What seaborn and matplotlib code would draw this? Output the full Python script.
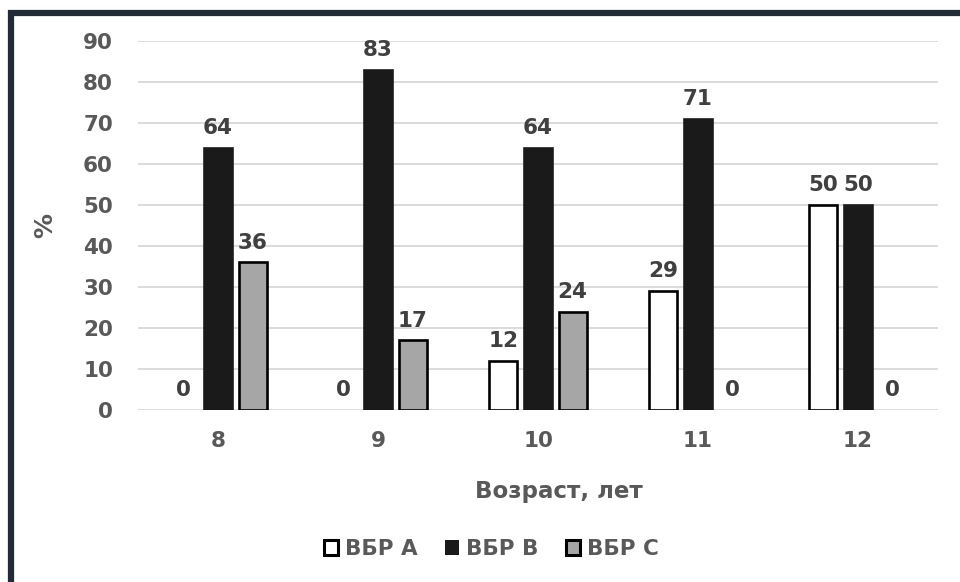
import matplotlib
matplotlib.use("Agg")
import matplotlib.pyplot as plt
from matplotlib.patches import Patch
from matplotlib.lines import Line2D
import seaborn as sns
import pandas as pd

# Age groups and share (%) of each variant
ages = ["8", "9", "10", "11", "12"]
series_names = ["ВБР А", "ВБР В", "ВБР С"]
vbr_a = [0, 0, 12, 29, 50]
vbr_b = [64, 83, 64, 71, 50]
vbr_c = [36, 17, 24, 0, 0]
y_ticks = [0, 10, 20, 30, 40, 50, 60, 70, 80, 90]

fills = ["#ffffff", "#1a1a1a", "#a6a6a6"]
edges = ["#000000", "#1a1a1a", "#000000"]

rows = []
for name, vals in zip(series_names, [vbr_a, vbr_b, vbr_c]):
    for age, v in zip(ages, vals):
        rows.append({"age": age, "series": name, "value": v})
df = pd.DataFrame(rows)

sns.set_theme(style="white")
plt.rcParams["font.family"] = ["DejaVu Sans"]

fig = plt.figure(figsize=(9.6, 5.82), dpi=100)
ax = fig.add_axes([138 / 960, 1 - 410 / 582, 800 / 960, 369 / 582])

sns.barplot(data=df, x="age", y="value", hue="series", order=ages,
            hue_order=series_names, palette=fills, width=0.65, gap=0.2,
            saturation=1, legend=False, ax=ax, zorder=3)

for cont, ec, fc in zip(ax.containers, edges, fills):
    for p in cont:
        p.set_facecolor(fc)
        if p.get_height() == 0:
            p.set_linewidth(0)
        else:
            p.set_edgecolor(ec)
            p.set_linewidth(1.9)
    ax.bar_label(cont, fmt="%d", padding=7, fontsize=15.5, fontweight="bold",
                 color="#404040")

ax.set_ylim(0, 90)
ax.set_xlim(-0.5, 4.5)
ax.set_yticks(y_ticks)
ax.grid(axis="y", color="#d9d9d9", linewidth=1.3, zorder=0)
ax.set_axisbelow(True)
for s in ax.spines.values():
    s.set_visible(False)
ax.tick_params(axis="both", length=0, labelsize=15.5, labelcolor="#595959")
ax.tick_params(axis="x", pad=15)
ax.tick_params(axis="y", pad=18)
for t in ax.get_xticklabels() + ax.get_yticklabels():
    t.set_fontweight("bold")

ax.set_xlabel("Возраст, лет", fontsize=16.5, fontweight="bold", color="#595959")
ax.set_ylabel("%", fontsize=18, fontweight="bold", color="#595959")
ax.xaxis.set_label_coords((559 - 138) / 800, (410 - 480) / 369)
ax.yaxis.set_label_coords((57 - 138) / 800, 0.5)

handles = [Patch(facecolor=fills[0], edgecolor="#000000", linewidth=2.2),
           Patch(facecolor=fills[1], edgecolor="#1a1a1a", linewidth=0),
           Patch(facecolor=fills[2], edgecolor="#000000", linewidth=2.2)]
fig.legend(handles, series_names, loc="center", bbox_to_anchor=(0.512, 1 - 549 / 582),
           ncol=3, frameon=False, handlelength=0.65, handleheight=0.65,
           handletextpad=0.3, columnspacing=1.3,
           prop={"weight": "bold", "size": 15.5}, labelcolor="#595959")

# dark frame along the left and top edges
frame_c = "#222a35"
fig.add_artist(Line2D([11 / 960, 11 / 960], [0, 1 - 10 / 582], color=frame_c,
                      linewidth=4.5, transform=fig.transFigure, solid_capstyle="butt"))
fig.add_artist(Line2D([8 / 960, 1], [1 - 13 / 582, 1 - 13 / 582], color=frame_c,
                      linewidth=4.5, transform=fig.transFigure, solid_capstyle="butt"))

fig.savefig("out.png", dpi=100)
